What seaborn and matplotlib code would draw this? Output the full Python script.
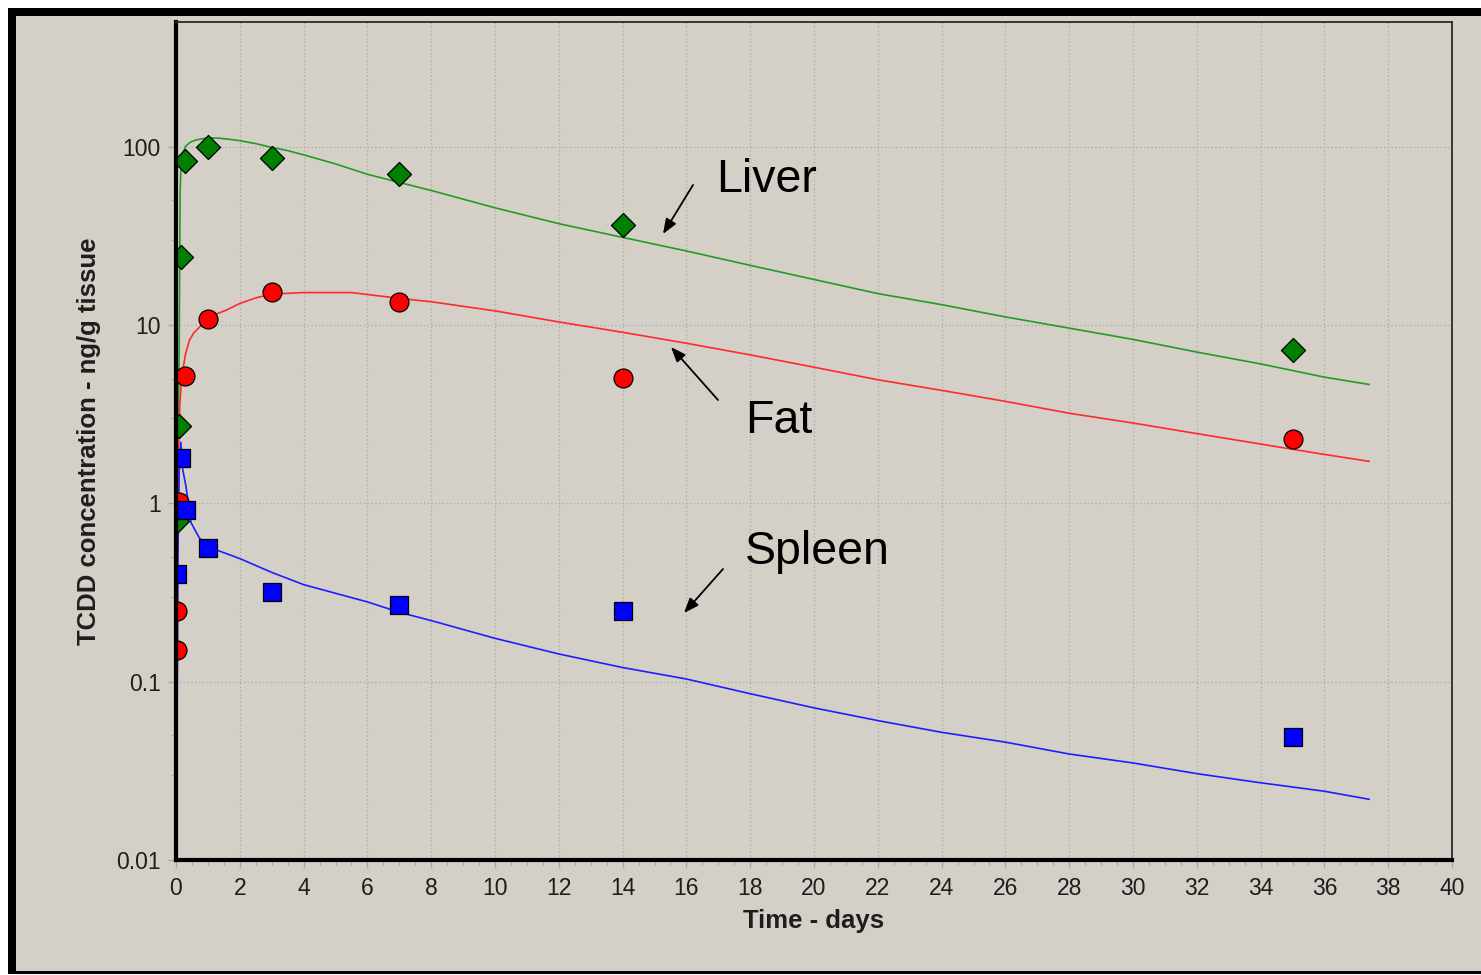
import numpy as np
import pandas as pd
import matplotlib
matplotlib.use("Agg")
import matplotlib.pyplot as plt
from matplotlib.patches import Rectangle
from matplotlib.ticker import FixedLocator, FixedFormatter, MultipleLocator
import seaborn as sns

# ---------------- data ----------------
# measured points
liver_t = [0.04, 0.083, 0.15, 0.27, 1, 3, 7, 14, 35]
liver_v = [0.80, 2.7, 24, 83, 100, 86, 70, 36.3, 7.2]
fat_t = [0.03, 0.04, 0.09, 0.27, 1, 3, 7, 14, 35]
fat_v = [0.15, 0.25, 1.02, 5.15, 10.8, 15.3, 13.5, 5.05, 2.28]
spleen_t = [0.03, 0.15, 0.3, 1, 3, 7, 14, 35]
spleen_v = [0.40, 1.8, 0.92, 0.565, 0.32, 0.27, 0.25, 0.049]

# model curves
liver_ct = [0.01, 0.06, 0.1, 0.12, 0.13, 0.15, 0.18, 0.22, 0.31, 0.45, 0.63, 0.85, 1.04, 1.35,
            1.67, 2, 2.5, 3, 3.5, 4, 5, 6, 7, 8, 10, 12, 14, 16, 18, 20, 22, 24, 26, 28, 30,
            32, 34, 36, 37.4]
liver_cv = [0.5, 1.5, 8, 30, 55, 72, 84, 93, 101, 106, 109, 111, 112, 111.5, 110, 108, 104, 99,
            95, 90, 80, 70, 63, 56.8, 45.4, 37, 31, 26, 21.6, 18, 15, 13, 11.1, 9.6, 8.3, 7.05,
            6.05, 5.1, 4.64]
fat_ct = [0.03, 0.05, 0.08, 0.12, 0.16, 0.2, 0.3, 0.42, 0.55, 0.78, 1.0, 1.25, 1.57, 2, 2.5, 3,
          4, 5.5, 7, 8, 10, 12, 14, 16, 18, 20, 22, 24, 26, 28, 30, 32, 34, 36, 37.4]
fat_cv = [0.04, 0.5, 2, 3.6, 4.6, 5.4, 6.9, 8.2, 9.0, 9.9, 10.8, 11.5, 12.1, 13.2, 14.2, 14.9,
          15.2, 15.2, 14.1, 13.5, 12.0, 10.4, 9.1, 7.9, 6.8, 5.8, 4.93, 4.3, 3.73, 3.2, 2.82,
          2.46, 2.15, 1.88, 1.72]
spleen_ct = [0.03, 0.06, 0.1, 0.15, 0.21, 0.31, 0.47, 0.73, 1.0, 1.36, 2, 3, 4, 6, 7, 8, 10, 12,
             14, 16, 18, 20, 22, 24, 26, 28, 30, 32, 34, 36, 37.4]
spleen_cv = [0.04, 0.5, 1.5, 2.2, 1.55, 1.25, 0.78, 0.64, 0.58, 0.54, 0.49, 0.41, 0.35, 0.28,
             0.245, 0.22, 0.175, 0.143, 0.12, 0.1035, 0.0856, 0.0713, 0.0605, 0.052, 0.0458,
             0.0393, 0.035, 0.0305, 0.0271, 0.0243, 0.0219]

y_ticks = [0.01, 0.1, 1, 10, 100]
y_tick_labels = ["0.01", "0.1", "1", "10", "100"]
y_minor = [0.03, 0.05, 0.3, 0.5, 3, 5, 30, 50]
x_ticks = list(range(0, 41, 2))

# ---------------- style ----------------
BG = "#D4D0C8"
plt.rcParams["font.family"] = ["Liberation Sans", "DejaVu Sans"]

W, H = 1481, 975
fig = plt.figure(figsize=(W / 100, H / 100), dpi=100, facecolor="white")

# outer window frame
fig.patches.append(Rectangle((8 / W, 1 / H), 1 - 8 / W, 966 / H, transform=fig.transFigure,
                             facecolor="black", edgecolor="none", zorder=-10))
fig.patches.append(Rectangle((16 / W, 4 / H), 1 - 16 / W, 955 / H, transform=fig.transFigure,
                             facecolor=BG, edgecolor="none", zorder=-9))

L, R, T, B = 176, 1452, 22, 860
ax = fig.add_axes([L / W, 1 - B / H, (R - L) / W, (B - T) / H])
ax.set_facecolor(BG)

series = [
    ("Liver", liver_t, liver_v, liver_ct, liver_cv, "#007F00", "#249A24", "D", 150),
    ("Fat", fat_t, fat_v, fat_ct, fat_cv, "#FF0000", "#FF2A2A", "o", 185),
    ("Spleen", spleen_t, spleen_v, spleen_ct, spleen_cv, "#0000FF", "#1E1EFF", "s", 185),
]

for name, t, v, ct, cv, mc, lc, mk, sz in series:
    dcurve = pd.DataFrame({"t": ct, "c": cv})
    sns.lineplot(data=dcurve, x="t", y="c", ax=ax, color=lc, linewidth=1.2,
                 sort=False, estimator=None, zorder=2.1)
    dpts = pd.DataFrame({"t": t, "c": v})
    sns.scatterplot(data=dpts, x="t", y="c", ax=ax, color=mc, marker=mk, s=sz,
                    edgecolor="black", linewidth=0.9, zorder=2.2)

ax.set_yscale("log")
ax.set_xlim(0, 40)
ax.set_ylim(0.01, 500)

ax.yaxis.set_major_locator(FixedLocator(y_ticks))
ax.yaxis.set_major_formatter(FixedFormatter(y_tick_labels))
ax.yaxis.set_minor_locator(FixedLocator(y_minor))
ax.yaxis.set_minor_formatter(FixedFormatter([""] * len(y_minor)))
ax.xaxis.set_major_locator(FixedLocator(x_ticks))
ax.xaxis.set_minor_locator(MultipleLocator(0.5))

ax.tick_params(axis="both", which="major", length=6, width=1.0, color="#A8A8A8",
               labelsize=16.5, labelcolor="#1E1E1E", pad=5)
ax.tick_params(axis="x", which="major", pad=6)
ax.tick_params(axis="both", which="minor", length=3.5, width=1.0, color="#A8A8A8")

ax.grid(True, which="major", color="#A8A8A8", linestyle=(0, (1, 2)), linewidth=0.9)
ax.set_axisbelow(True)

for side in ["left", "bottom"]:
    ax.spines[side].set_linewidth(3.0)
    ax.spines[side].set_color("black")
for side in ["top", "right"]:
    ax.spines[side].set_linewidth(1.3)
    ax.spines[side].set_color("#2A2A2A")

ax.set_xlabel("Time - days", fontsize=18.5, fontweight="bold", color="#1E1E1E", labelpad=7)
ax.set_ylabel("TCDD concentration - ng/g tissue", fontsize=18.5, fontweight="bold",
              color="#1E1E1E", labelpad=11)


def fx(px):
    return (px - L) / (R - L)


def fy(py):
    return (B - py) / (B - T)


labels = [
    ("Liver", 716, 192, (693, 185), (663, 234)),
    ("Fat", 745, 433, (718, 400), (671, 347)),
    ("Spleen", 745, 564, (723, 569), (684, 613)),
]
for txt, tx, ty, tail, head in labels:
    ax.text(fx(tx), fy(ty), txt, transform=ax.transAxes, fontsize=33.5, color="black",
            ha="left", va="baseline")
    ax.annotate("", xy=(fx(head[0]), fy(head[1])), xycoords="axes fraction",
                xytext=(fx(tail[0]), fy(tail[1])), textcoords="axes fraction",
                arrowprops=dict(arrowstyle="-|>,head_length=0.9,head_width=0.35",
                                color="black", lw=1.3, shrinkA=0, shrinkB=0))

fig.savefig("out.png", dpi=100, facecolor=fig.get_facecolor())
